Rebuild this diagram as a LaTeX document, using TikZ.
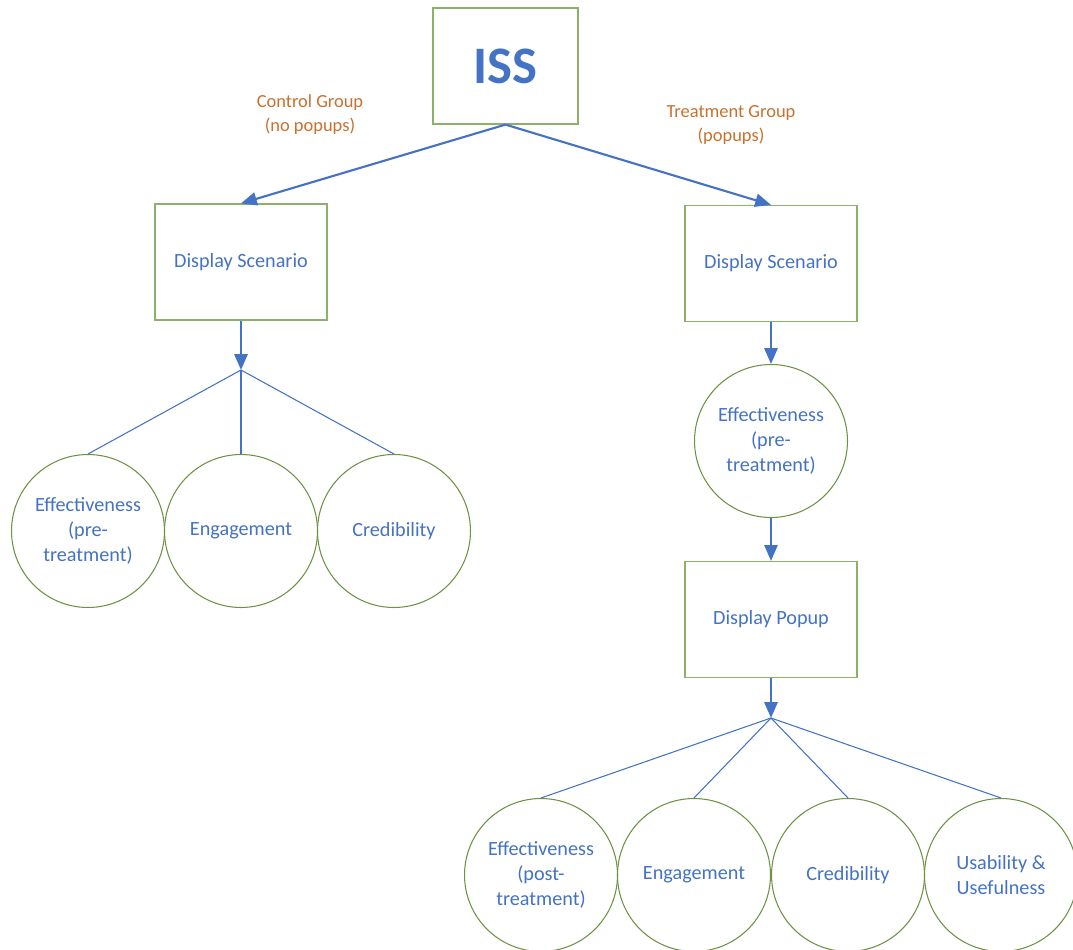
\documentclass[tikz,border=0pt]{standalone}
\usepackage{fontspec}
\setmainfont{Carlito}
\usetikzlibrary{arrows.meta}
\definecolor{txtblue}{HTML}{4472C4}
\definecolor{lblorange}{HTML}{C9702E}
\definecolor{boxgreen}{HTML}{8CB26A}
\definecolor{circgreen}{HTML}{6E9244}
\begin{document}
\begin{tikzpicture}[x=0.02cm,y=-0.02cm,
  font=\fontsize{11.5}{14}\selectfont,
  stepbox/.style={draw=boxgreen,line width=0.7pt,text=txtblue,minimum width=3.44cm,minimum height=2.32cm},
  measure/.style={draw=circgreen,line width=0.6pt,circle,text=txtblue,minimum size=3.06cm,align=center,inner sep=0pt},
  grouplbl/.style={text=lblorange,align=center,font=\fontsize{10.5}{13.6}\selectfont},
  flow/.style={draw=txtblue,line width=1.2pt},
  flowarrow/.style={flow,-{Stealth[length=9pt,width=7.5pt,inset=0pt]}},
  branch/.style={draw=txtblue,line width=0.6pt}]
\useasboundingbox (0,0) rectangle (1073,950);
\node[stepbox,minimum width=2.9cm,text=txtblue,font=\fontsize{30}{36}\selectfont\bfseries] (iss) at (505.5,66) {ISS};
\node[grouplbl] (ctrl) at (310,115) {Control Group\\(no popups)};
\node[grouplbl] (treat) at (731,125) {Treatment Group\\(popups)};
% control group
\node[stepbox] (scen1) at (241,262) {Display Scenario};
\coordinate (split1) at (241,370);
\node[measure] (eff1) at (88,531) {Effectiveness\\(pre-\\treatment)};
\node[measure] (eng1) at (241,531) {Engagement};
\node[measure] (cred1) at (394,531) {Credibility};
% treatment group
\node[stepbox] (scen2) at (771,263.5) {Display Scenario};
\node[measure] (eff2) at (771,441) {Effectiveness\\(pre-\\treatment)};
\node[stepbox] (popup) at (771,619.5) {Display Popup};
\coordinate (split2) at (771,718);
\node[measure] (eff3) at (541,875) {Effectiveness\\(post-\\treatment)};
\node[measure] (eng2) at (694,875) {Engagement};
\node[measure] (cred2) at (848,875) {Credibility};
\node[measure] (usab) at (1001,875) {Usability \&\\Usefulness};
\draw[flowarrow] (iss.south) -- (scen1.north);
\draw[flowarrow] (iss.south) -- (scen2.north);
\draw[flowarrow] (scen1.south) -- (split1);
\draw[branch] (split1) -- (eff1.north);
\draw[flow] (split1) -- (eng1.north);
\draw[branch] (split1) -- (cred1.north);
\draw[flowarrow] (scen2.south) -- (eff2.north);
\draw[flowarrow] (eff2.south) -- (popup.north);
\draw[flowarrow] (popup.south) -- (split2);
\draw[branch] (split2) -- (eff3.north);
\draw[branch] (split2) -- (eng2.north);
\draw[branch] (split2) -- (cred2.north);
\draw[branch] (split2) -- (usab.north);
\end{tikzpicture}
\end{document}
